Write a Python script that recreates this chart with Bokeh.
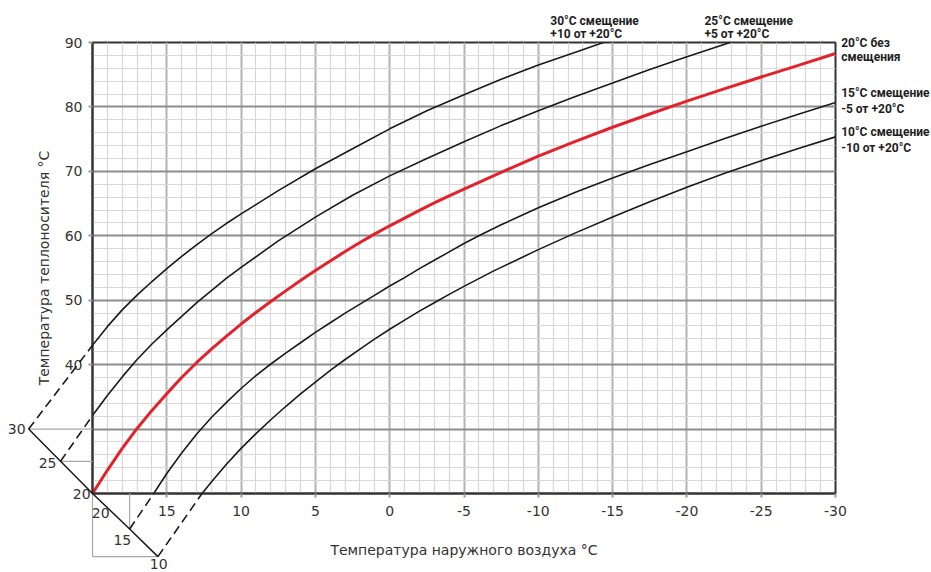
from bokeh.plotting import figure
from bokeh.models import Range1d, FixedTicker
from bokeh.core.properties import value
from bokeh.embed import file_html
from bokeh.resources import INLINE

# ---- data ----
# outdoor temperature (x) and flow temperature (y) for each room set-point curve
outdoor_30 = [20, 19, 18, 17, 16, 15, 14, 13, 12, 11, 10, 7.5, 5, 2.5, 0, -2.5, -5, -7.5, -10, -12.5, -15]
flow_30 = [43.0, 45.9, 48.5, 50.8, 52.9, 54.9, 56.8, 58.6, 60.3, 61.9, 63.4, 67.0, 70.4, 73.5, 76.6, 79.4,
           81.9, 84.3, 86.5, 88.5, 90.5]

outdoor_25 = [20, 19, 18, 17, 16, 15, 14, 13, 12, 11, 10, 7.5, 5, 2.5, 0, -2.5, -5, -7.5, -10, -12.5,
              -15, -17.5, -20, -22.5, -25]
flow_25 = [32.1, 35.2, 38.1, 40.8, 43.2, 45.4, 47.5, 49.6, 51.5, 53.4, 55.1, 59.2, 62.9, 66.3, 69.3, 72.0,
           74.6, 77.1, 79.4, 81.6, 83.7, 85.8, 87.8, 89.7, 91.6]

outdoor_20 = [20, 19, 18, 17, 16, 15, 14, 13, 12, 11, 10, 9, 8, 7, 6, 5, 4, 3, 2, 1, 0, -1, -2, -3, -4, -5,
              -7.5, -10, -12.5, -15, -17.5, -20, -22.5, -25, -27.5, -30]
flow_20 = [20, 23.6, 27.0, 30.1, 32.9, 35.5, 38.0, 40.3, 42.4, 44.4, 46.3, 48.1, 49.8, 51.45, 53.05, 54.6,
           56.1, 57.55, 58.95, 60.3, 61.55, 62.75, 63.95, 65.1, 66.2, 67.25, 69.85, 72.35, 74.65, 76.85,
           78.9, 80.9, 82.8, 84.65, 86.45, 88.3]

outdoor_15 = [15.88, 15, 14, 13, 12, 11, 10, 9, 8, 7, 6, 5, 4, 3, 2, 1, 0, -1, -2, -3, -4, -5, -6,
              -7.5, -10, -12.5, -15, -17.5, -20, -22.5, -25, -27.5, -30]
flow_15 = [20, 23.1, 26.3, 29.2, 31.8, 34.1, 36.3, 38.3, 40.1, 41.8, 43.4, 45.0, 46.5, 48.0, 49.4, 50.8,
           52.2, 53.5, 54.9, 56.2, 57.5, 58.8, 60.0, 61.7, 64.35, 66.75, 68.95, 71.05, 73.05, 75.05,
           77.0, 78.85, 80.7]

outdoor_10 = [12.63, 12, 11, 10, 9, 8, 7, 6, 5, 4, 3, 2, 1, 0, -1, -2, -3, -4, -5, -6, -7, -7.5, -10,
              -12.5, -15, -17.5, -20, -22.5, -25, -27.5, -30]
flow_10 = [20, 21.8, 24.5, 27.0, 29.3, 31.45, 33.5, 35.45, 37.3, 39.1, 40.8, 42.4, 44.0, 45.5, 46.9, 48.3,
           49.6, 50.9, 52.15, 53.35, 54.55, 55.1, 57.85, 60.45, 62.9, 65.3, 67.55, 69.65, 71.65, 73.55,
           75.35]

# diagonal set-point construction (room set-point scale)
diag_labels = ["30", "25", "20", "15", "10"]
diag_x = [24.3, 22.15, 20, 17.5, 15.6]
diag_y = [30, 25, 20, 14.5, 10.2]

x_ticks = [15, 10, 5, 0, -5, -10, -15, -20, -25, -30]
y_ticks = [40, 50, 60, 70, 80, 90]
x_grid_major = list(range(-30, 21, 5))
x_grid_minor = list(range(-30, 21, 1))
y_grid_major = list(range(20, 91, 10))
y_grid_minor = list(range(20, 91, 2))

curve_notes = [
    ("30°C смещение", "+10 от +20°C"),
    ("25°C смещение", "+5 от +20°C"),
    ("20°C без", "смещения"),
    ("15°C смещение", "-5 от +20°C"),
    ("10°C смещение", "-10 от +20°C"),
]

# ---- figure ----
p = figure(width=931, height=572, x_range=Range1d(20, -30), y_range=Range1d(20, 90),
           output_backend="svg", toolbar_location=None,
           min_border_left=92, min_border_right=96, min_border_top=42, min_border_bottom=79)
p.background_fill_color = "white"
p.border_fill_color = "white"
p.outline_line_color = "#333333"
p.outline_line_width = 2

p.xgrid.ticker = FixedTicker(ticks=x_grid_major, minor_ticks=x_grid_minor)
p.xgrid.grid_line_color = "#b4b4b4"
p.xgrid.grid_line_width = 2
p.xgrid.minor_grid_line_color = "#d8d8d8"
p.xgrid.minor_grid_line_width = 1.2
p.ygrid.ticker = FixedTicker(ticks=y_grid_major, minor_ticks=y_grid_minor)
p.ygrid.grid_line_color = "#8c8c8c"
p.ygrid.grid_line_width = 2
p.ygrid.minor_grid_line_color = "#d8d8d8"
p.ygrid.minor_grid_line_width = 1.2

p.xaxis.ticker = FixedTicker(ticks=x_ticks)
p.xaxis.major_label_overrides = {t: str(t) for t in x_ticks}
p.yaxis.ticker = FixedTicker(ticks=y_ticks)
for ax in (p.xaxis, p.yaxis):
    ax.axis_line_color = "#333333"
    ax.axis_line_width = 2
    ax.major_tick_line_color = "#9a9a9a"
    ax.major_tick_line_width = 2
    ax.major_tick_out = 4
    ax.major_tick_in = 0
    ax.minor_tick_line_color = None
    ax.major_label_text_font = "DejaVu Sans"
    ax.major_label_text_font_size = "14px"
    ax.major_label_text_color = "#333333"
    ax.axis_label_text_font = "DejaVu Sans"
    ax.axis_label_text_font_size = "14px"
    ax.axis_label_text_font_style = "normal"
    ax.axis_label_text_color = "#333333"
p.xaxis.axis_label = "Температура наружного воздуха °C"
p.yaxis.axis_label = "Температура теплоносителя °C"
p.xaxis.major_label_standoff = 8
p.xaxis.axis_label_standoff = 23
p.yaxis.major_label_standoff = 6
p.yaxis.axis_label_standoff = 10

# ---- curves ----
black = "#1a1a1a"
p.line(outdoor_30, flow_30, line_color=black, line_width=1.6)
p.line(outdoor_25, flow_25, line_color=black, line_width=1.6)
p.line(outdoor_15, flow_15, line_color=black, line_width=1.6)
p.line(outdoor_10, flow_10, line_color=black, line_width=1.6)
p.line(outdoor_20, flow_20, line_color="#e3222b", line_width=3)

# ---- set-point construction outside the frame ----
gray = "#a8a8a8"
p.segment(x0=[diag_x[0], diag_x[1]], y0=[diag_y[0], diag_y[1]],
          x1=[diag_x[2], diag_x[2]], y1=[diag_y[0], diag_y[1]],
          line_color=gray, line_width=1.2, level="overlay")
p.segment(x0=[diag_x[2], diag_x[2], diag_x[3]], y0=[diag_y[2], diag_y[4], diag_y[3]],
          x1=[diag_x[2], diag_x[4], diag_x[3]], y1=[diag_y[4], diag_y[4], diag_y[2]],
          line_color=gray, line_width=1.2, level="overlay")
p.line(diag_x, diag_y, line_color=black, line_width=1.5, level="overlay")
starts_x = [outdoor_30[0], outdoor_25[0], outdoor_15[0], outdoor_10[0]]
starts_y = [flow_30[0], flow_25[0], flow_15[0], flow_10[0]]
p.segment(x0=[diag_x[0], diag_x[1], diag_x[3], diag_x[4]],
          y0=[diag_y[0], diag_y[1], diag_y[3], diag_y[4]],
          x1=starts_x, y1=starts_y, line_color=black, line_width=1.6,
          line_dash="9 5", level="overlay")

# labels of the set-point scale
scale_lx = [25.1, 23.02, 20.73, 19.45, 17.99, 15.54]
scale_ly = [29.96, 24.68, 19.88, 16.98, 12.85, 9.0]
scale_txt = diag_labels[:3] + ["20", "15", "10"]
p.text(x=scale_lx, y=scale_ly, text=scale_txt, text_font=value("DejaVu Sans"),
       text_font_size="14px", text_color="#333333", text_align="center",
       text_baseline="middle", level="overlay")

# curve annotations
note_x = [-10.81, -21.18, -30.38, -30.38, -30.38]
note_y1 = [93.4, 93.4, 89.9, 82.1, 76.05]
note_y2 = [91.3, 91.3, 87.8, 79.7, 73.7]
nx, ny, nt = [], [], []
for x0, y1, y2, (t1, t2) in zip(note_x, note_y1, note_y2, curve_notes):
    nx += [x0, x0]
    ny += [y1, y2]
    nt += [t1, t2]
p.text(x=nx, y=ny, text=nt, text_font=value("Roboto"), text_font_size="12px",
       text_font_style="bold", text_color="#1e1e1e", text_align="left",
       text_baseline="middle", level="overlay")

open("out.html", "w").write(file_html(p, INLINE))
